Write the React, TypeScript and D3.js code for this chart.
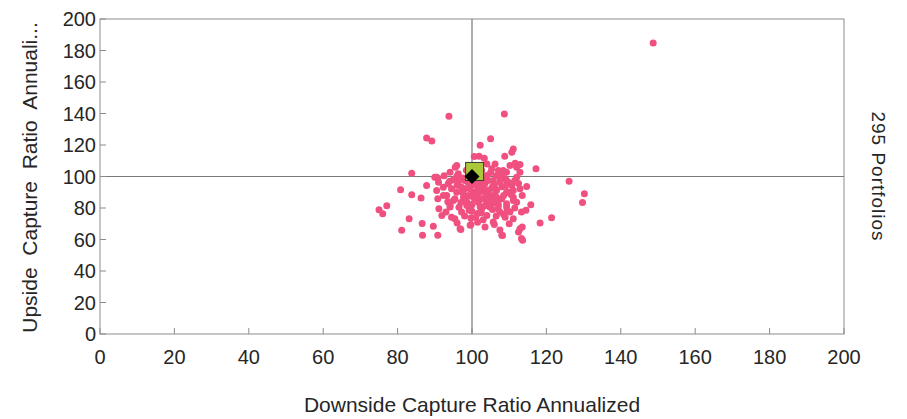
import React from "react";
import * as d3 from "d3";

// Portfolio capture ratios (downside, upside), one entry per portfolio dot
const downside: number[] = [
  148.7, 93.8, 108.7, 87.8, 89.2, 105.0, 102.2, 111.1, 110.7, 100.6, 101.9, 103.3, 108.8, 111.6, 112.9, 117.2,
  83.8, 95.5, 126.1, 130.2, 129.7, 80.8, 83.8, 86.3, 87.8, 90.8, 77.1, 75.0, 76.0, 83.1, 81.1, 86.6,
  89.6, 86.7, 90.8, 97.0, 99.7, 108.2, 113.6, 112.5, 113.5, 118.3, 121.4, 115.8, 114.7, 109.3, 95.9, 95.0,
  90.5, 90.8, 91.1, 91.9, 90.5, 94.5, 93.2, 94.1, 94.5, 96.8, 99.5, 99.7, 99.2, 99.0, 101.7, 104.0,
  105.7, 107.5, 108.9, 111.1, 112.9, 108.0, 113.3, 103.5, 106.2, 109.8, 112.0, 113.3, 96.3, 102.2, 104.4, 108.9,
  110.7, 112.9, 98.1, 100.4, 95.4, 97.7, 105.3, 107.1, 109.3, 102.6, 104.8, 110.2, 97.2, 95.4, 106.6, 111.1,
  114.5, 95.9, 107.1, 108.4, 105.3, 112.9, 110.2, 112.0, 90.0, 94.1, 96.3, 104.0, 105.7, 107.5, 109.3, 102.6,
  104.0, 106.2, 112.0, 91.0, 92.3, 93.6, 97.2, 99.5, 103.0, 106.6, 109.3, 111.1, 100.8, 104.4, 108.0, 111.1,
  95.0, 92.3, 95.9, 101.7, 105.3, 98.6, 102.2, 109.3, 94.1, 98.0, 100.5, 103.2, 106.0, 108.0, 110.0, 101.0,
  97.5, 99.0, 103.0, 106.0, 107.0, 104.0, 100.0, 101.5, 103.0, 106.5, 109.5, 111.5, 96.5, 98.0, 93.0, 96.0,
  101.5, 106.0, 110.0, 107.5, 103.5, 112.5, 105.0, 101.0, 98.5, 92.5,
  99.0, 101.5, 103.5, 105.5, 107.5, 109.0, 100.0, 102.0, 104.5, 106.0, 108.5, 110.5, 98.5, 100.0, 103.5, 105.5,
  107.0, 108.5, 101.0, 102.5, 97.5, 96.0, 94.0, 99.5, 102.0, 106.5, 108.0, 111.5, 113.5, 104.5, 97.0, 93.5,
];
const upside: number[] = [
  184.8, 138.2, 139.7, 124.5, 122.6, 123.9, 119.8, 117.5, 115.4, 112.7, 112.9, 111.6, 112.9, 108.4, 107.6, 104.9,
  102.1, 105.9, 97.0, 89.0, 83.5, 91.6, 88.4, 86.3, 94.3, 98.9, 81.4, 78.9, 76.4, 73.2, 65.8, 70.1,
  68.4, 62.7, 62.7, 66.3, 69.6, 62.5, 59.5, 64.7, 67.9, 70.4, 73.8, 82.1, 93.7, 102.7, 100.0, 97.9,
  91.1, 85.9, 79.6, 75.3, 99.6, 92.2, 88.0, 81.6, 74.2, 66.9, 69.0, 73.6, 78.5, 82.7, 83.7, 75.3,
  71.1, 77.4, 74.2, 73.2, 66.9, 62.7, 60.6, 90.0, 92.2, 90.0, 83.7, 77.4, 96.4, 96.4, 97.5, 98.5,
  94.3, 92.2, 92.2, 90.0, 85.9, 86.9, 85.9, 81.6, 82.7, 79.6, 80.6, 77.4, 77.4, 73.2, 86.9, 86.9,
  78.5, 107.0, 103.8, 103.8, 104.9, 102.7, 107.0, 105.9, 99.6, 102.7, 101.7, 100.6, 97.5, 99.6, 97.5, 103.8,
  108.0, 108.0, 99.6, 96.4, 93.2, 95.4, 93.2, 92.2, 93.2, 91.1, 90.0, 91.1, 85.9, 88.0, 85.9, 84.8,
  84.8, 88.0, 90.0, 89.0, 82.7, 81.6, 80.6, 80.6, 80.6, 97.5, 95.0, 99.0, 95.0, 93.5, 96.0, 98.5,
  99.0, 88.0, 86.0, 88.5, 84.0, 83.5, 78.0, 76.5, 72.5, 75.0, 78.5, 80.0, 80.5, 75.0, 77.5, 70.5,
  71.0, 69.5, 70.0, 66.0, 68.0, 95.5, 102.5, 101.5, 104.0, 100.5,
  96.0, 93.0, 95.5, 93.5, 96.5, 94.0, 87.5, 85.0, 86.0, 83.5, 88.0, 88.5, 84.5, 82.0, 81.5, 79.0,
  79.5, 76.0, 74.0, 77.0, 90.0, 94.5, 97.0, 99.0, 91.0, 100.5, 101.5, 97.5, 88.0, 91.5, 83.5, 84.0,
];

// Benchmark markers
const benchmarkSquare = { downside: 100.7, upside: 103.2 };
const benchmarkDiamond = { downside: 100, upside: 100 };

const axisTicks: number[] = [0, 20, 40, 60, 80, 100, 120, 140, 160, 180, 200];
const xTitle = "Downside Capture Ratio Annualized";
const yTitle = "Upside  Capture  Ratio  Annuali...";
const sideLabel = "295 Portfolios";

const W = 907;
const H = 419;
const left = 100;
const right = 844;
const top = 19;
const bottom = 334;

export default function App() {
  const x = d3.scaleLinear().domain([0, 200]).range([left, right]);
  const y = d3.scaleLinear().domain([0, 200]).range([bottom, top]);
  const font = "'Liberation Sans', Arial, sans-serif";
  const axisColor = "#8c8c8c";
  const textColor = "#262626";
  const sq = 18;
  const dm = 7.5;

  const points = downside.map((d, i) => ({ d, u: upside[i] }));

  return (
    <svg
      width={W}
      height={H}
      style={{ position: "absolute", left: 0, top: 0, background: "#fff" }}
      fontFamily={font}
    >
      {/* plot frame */}
      <rect x={left} y={top} width={right - left} height={bottom - top} fill="none" stroke={axisColor} strokeWidth={1} />

      {/* crosshair at 100 / 100 */}
      <line x1={x(100)} x2={x(100)} y1={top} y2={bottom} stroke="#7a7a7a" strokeWidth={1.2} />
      <line x1={left} x2={right} y1={y(100)} y2={y(100)} stroke="#7a7a7a" strokeWidth={1.2} />

      {/* inward ticks */}
      {axisTicks.map((t) => (
        <g key={"xt" + t}>
          <line x1={x(t)} x2={x(t)} y1={bottom} y2={bottom - 6} stroke={axisColor} />
          <text x={x(t)} y={bottom + 30} textAnchor="middle" fontSize={20} fill={textColor}>
            {t}
          </text>
        </g>
      ))}
      {axisTicks.map((t) => (
        <g key={"yt" + t}>
          <line x1={left} x2={left + 6} y1={y(t)} y2={y(t)} stroke={axisColor} />
          <text x={left - 4} y={y(t)} dy="0.35em" textAnchor="end" fontSize={20} fill={textColor}>
            {t}
          </text>
        </g>
      ))}

      {/* portfolios */}
      {points.map((p, i) => (
        <circle key={i} cx={x(p.d)} cy={y(p.u)} r={3.5} fill="#f0507f" />
      ))}

      {/* benchmark markers */}
      <rect
        x={x(benchmarkSquare.downside) - sq / 2}
        y={y(benchmarkSquare.upside) - sq / 2}
        width={sq}
        height={sq}
        fill="#a9c93a"
        stroke="#3a3a3a"
        strokeWidth={1}
      />
      <path
        d={`M${x(benchmarkDiamond.downside)},${y(benchmarkDiamond.upside) - dm} l${dm},${dm} l${-dm},${dm} l${-dm},${-dm} Z`}
        fill="#000"
      />

      {/* titles */}
      <text x={(left + right) / 2} y={412} textAnchor="middle" fontSize={21} fill={textColor}>
        {xTitle}
      </text>
      <text
        transform={`translate(37,${(top + bottom) / 2 + 1}) rotate(-90)`}
        textAnchor="middle"
        fontSize={21}
        fill={textColor}
        style={{ whiteSpace: "pre" }}
      >
        {yTitle}
      </text>
      <text
        transform={`translate(872,${y(100)}) rotate(90)`}
        textAnchor="middle"
        fontSize={19}
        letterSpacing={1}
        fill={textColor}
      >
        {sideLabel}
      </text>
    </svg>
  );
}
